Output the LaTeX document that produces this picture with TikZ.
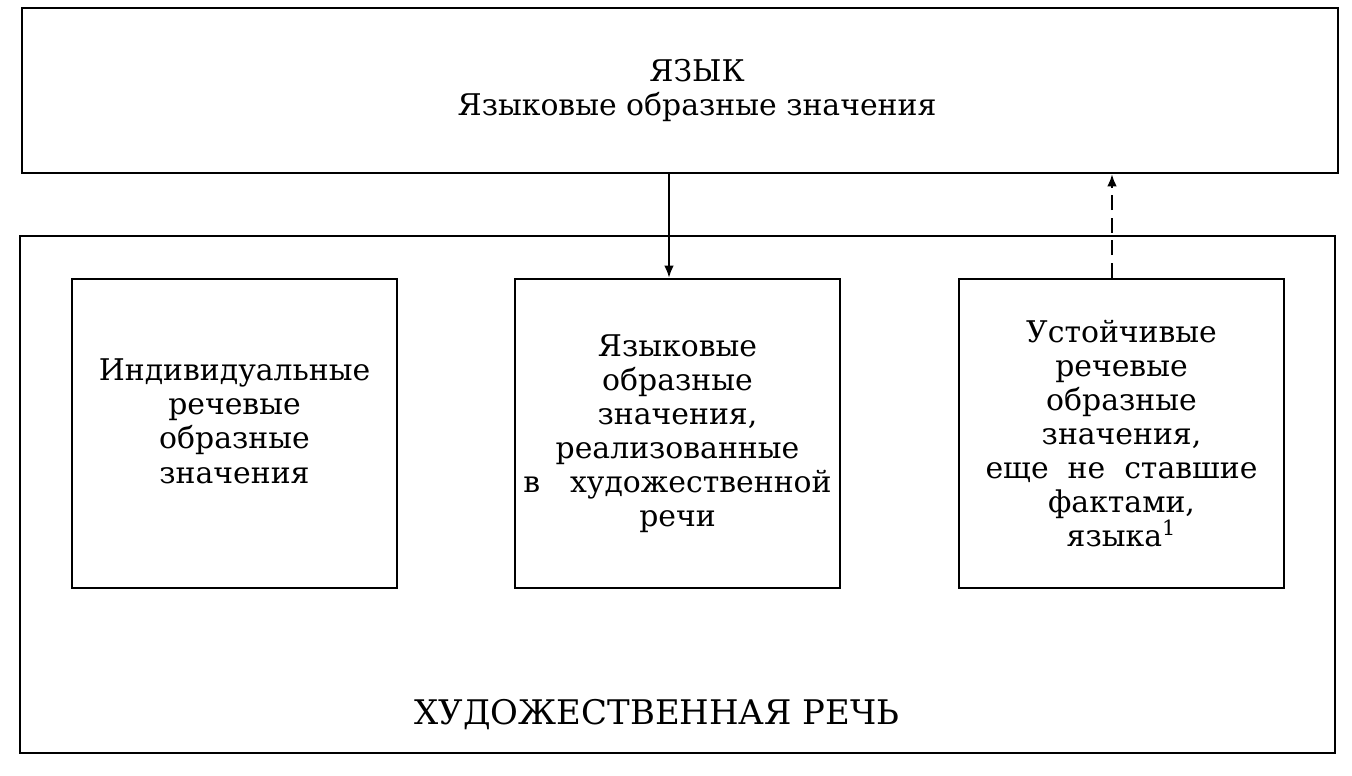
\documentclass[tikz,border=0pt]{standalone}
\usepackage{fontspec}
\setmainfont{DejaVu Serif}
\usetikzlibrary{calc}
\usetikzlibrary{arrows.meta}
\tikzset{>={Latex[length=2.4mm,width=1.9mm]}}
\tikzset{frame/.style={draw,line width=1.5pt,inner sep=0pt}}
\tikzset{txt/.style={font=\fontsize{17}{19.4}\selectfont}}
\tikzset{inbox/.style={frame,txt,minimum width=6.5cm,minimum height=6.18cm,align=center}}

\begin{document}
\begin{tikzpicture}[x=0.02cm,y=-0.02cm]
		\useasboundingbox (0,0) rectangle (1352,776);
		\node[frame,minimum width=26.32cm,minimum height=3.3cm] (lang) at (680,90.5) {};
		\node[txt,align=center] (langtxt) at (697,90.5) {ЯЗЫК\\Языковые образные значения};
		\node[frame,minimum width=26.3cm,minimum height=10.34cm] (speech) at (677.5,494.5) {};
		\node[inbox,text depth=0.5cm] (indiv) at (234.5,433.5) {Индивидуальные\\речевые\\образные\\значения};
		\node[inbox] (lingv) at (677.5,433.5) {Языковые\\образные\\значения,\\реализованные\\в\quad художественной\\речи};
		\node[inbox] (fixed) at (1121.5,433.5) {Устойчивые\\речевые\\образные\\значения,\\еще\ \ не\ \ ставшие\\фактами,\\языка\textsuperscript{1}};
		\node[font=\fontsize{19.3}{22}\selectfont] (art) at (657,715) {ХУДОЖЕСТВЕННАЯ РЕЧЬ};
		\coordinate (D) at (669,0);
		\coordinate (U) at (1112,0);
		\draw[line width=1pt,->] (lang.south -| D) -- (lingv.north -| D);
		\draw[line width=1pt,->,dash pattern=on 0.3cm off 0.15cm] (fixed.north -| U) -- (lang.south -| U);
	\end{tikzpicture}
\end{document}
